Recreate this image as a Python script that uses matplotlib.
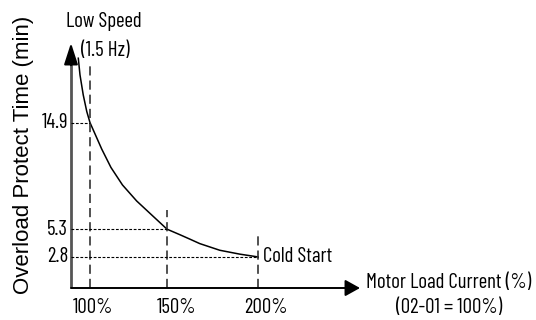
import matplotlib
matplotlib.use("Agg")
import matplotlib.pyplot as plt
import numpy as np

# values
load_pct = [100, 150, 200]
protect_min = [14.9, 5.3, 2.8]
tick_labels = ["100%", "150%", "200%"]
dash_top = [20.3, 7.0, 4.8]

curve_x = [92.4, 93.5, 95.6, 97.9, 100, 107.6, 113.6, 121.1, 130.3, 138.9,
           150, 157.1, 162.6, 168, 179, 190, 200]
curve_y = [20.7, 19.2, 17.4, 15.9, 14.9, 12.52, 10.86, 9.28, 7.84, 6.73,
           5.3, 4.8, 4.4, 4.0, 3.4, 3.05, 2.8]

narrow = ["Barlow Condensed", "DejaVu Sans"]
plain = ["Liberation Sans", "DejaVu Sans"]

# the drawing is not to scale along x: 100/150/200 % are unevenly spaced
D = [-1000, 100, 150, 200, 2000]
P = [90 - 1100 * 1.54, 90, 167, 258, 258 + 1800 * 1.82]
fwd = lambda d: np.interp(d, D, P)
inv = lambda p: np.interp(p, P, D)

W, H = 536, 320
fig = plt.figure(figsize=(W / 100, H / 100), dpi=100)
ax = fig.add_axes([0, 0, 1, 1])
ax.set_xscale("function", functions=(fwd, inv))
ax.set_xlim(inv(0), inv(W))
ax.set_ylim(-32 / 11.1, 288 / 11.1)
ax.axis("off")

x0 = inv(71)  # where the two axes meet
y_tip = (288 - 43) / 11.1

# y axis: grey shaft, black head
ax.plot([x0, x0], [0, y_tip - 1.5], color="#555555", lw=2, solid_capstyle="butt")
ax.annotate("", xy=(x0, y_tip), xytext=(x0, y_tip - 2),
            arrowprops=dict(arrowstyle="-|>,head_length=1.3,head_width=0.42",
                            color="black", lw=1.5, shrinkA=0, shrinkB=0))
ax.annotate("", xy=(inv(360), 0), xytext=(x0, 0),
            arrowprops=dict(arrowstyle="-|>,head_length=0.9,head_width=0.5",
                            color="black", lw=1.4, shrinkA=0, shrinkB=0))

ax.plot(curve_x, curve_y, color="black", lw=1.1)

for xv, yv, top in zip(load_pct, protect_min, dash_top):
    ax.plot([xv, xv], [0, top], color="#333333", lw=1.2, dashes=(5.5, 3))
    ax.plot([x0, xv], [yv, yv], color="black", lw=0.8, dashes=(2.5, 1.5))
    ax.annotate(f"{yv}", (x0, yv), xytext=(-3, 0), textcoords="offset pixels",
                ha="right", va="center", fontsize=15, family=narrow)

label_shift = [2.5, 10, 8]
for xv, lab, dx in zip(load_pct, tick_labels, label_shift):
    ax.annotate(lab, (xv, 0), xytext=(dx, -19.5), textcoords="offset pixels",
                ha="center", va="center", fontsize=15, family=narrow)

ax.annotate("Cold Start", (200, 2.8), xytext=(5, 0), textcoords="offset pixels",
            ha="left", va="center", fontsize=15, family=narrow)

fig.text(104 / W, 1 - 27 / H, "Low Speed", ha="center", va="baseline",
         fontsize=15, family=narrow)
fig.text(105 / W, 1 - 56 / H, "(1.5 Hz)", ha="center", va="baseline",
         fontsize=15, family=narrow)
fig.text(449 / W, 1 - 288 / H, "Motor Load Current (%)", ha="center",
         va="baseline", fontsize=15, family=narrow)
fig.text(449 / W, 1 - 313 / H, "(02-01 = 100%)", ha="center", va="baseline",
         fontsize=15, family=narrow)
fig.text(24 / W, 1 - 155 / H, "Overload Protect Time (min)", rotation=90,
         ha="center", va="center", fontsize=16, family=plain)

fig.savefig("out.png", dpi=100)
